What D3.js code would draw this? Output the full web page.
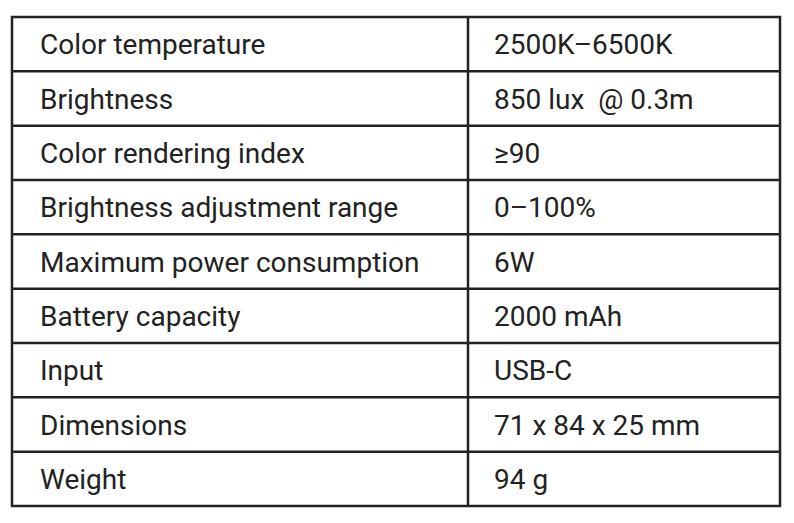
<!DOCTYPE html>
<html><head><meta charset="utf-8">
<script src="https://cdn.jsdelivr.net/npm/d3@7"></script>
<style>body{margin:0;background:#fff}</style>
</head><body><div id="chart"></div>
<script>
const labels = ["Color temperature", "Brightness", "Color rendering index", "Brightness adjustment range",
  "Maximum power consumption", "Battery capacity", "Input", "Dimensions", "Weight"];
const values = ["2500K\u20136500K", "850 lux  @ 0.3m", "\u226590", "0\u2013100%", "6W",
  "2000 mAh", "USB-C", "71 x 84 x 25 mm", "94 g"];

const W = 794, H = 523;
const box = { left: 12, right: 780, top: 17, bottom: 506, split: 468 };

const svg = d3.select("#chart").append("svg").attr("width", W).attr("height", H);

const y = d3.scaleBand().domain(d3.range(labels.length)).range([box.top, box.bottom]);

const g = svg.append("g").attr("font-family", "Roboto").attr("font-size", "28px").attr("fill", "#222");

labels.forEach((t, i) => {
  g.append("text").attr("x", 40).attr("y", y(i) + y.bandwidth() / 2 + 10).text(t);
  g.append("text").attr("x", 494).attr("y", y(i) + y.bandwidth() / 2 + 10)
    .style("white-space", "pre").text(values[i]);
});

const lines = svg.append("g").attr("stroke", "#222").attr("stroke-width", 2.5);
d3.range(1, labels.length).forEach(i => {
  lines.append("line").attr("x1", box.left).attr("x2", box.right).attr("y1", y(i)).attr("y2", y(i));
});
lines.append("line").attr("x1", box.split).attr("x2", box.split).attr("y1", box.top).attr("y2", box.bottom);
lines.append("rect").attr("x", box.left).attr("y", box.top)
  .attr("width", box.right - box.left).attr("height", box.bottom - box.top).attr("fill", "none");
</script></body></html>
